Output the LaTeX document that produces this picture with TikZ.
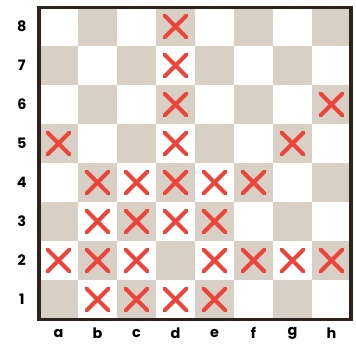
\documentclass[tikz,border=0pt]{standalone}
\usepackage{fontspec}
\setmainfont{Poppins}
\usetikzlibrary{calc}

\definecolor{darksq}{RGB}{217,208,197}
\definecolor{frame}{RGB}{45,35,28}
\definecolor{cross}{RGB}{236,68,58}

\tikzset{
  mark x/.style={cross, line width=2.9pt, line cap=round},
  lbl/.style={font=\fontsize{10.5}{12}\selectfont\bfseries, text=black}
}

\begin{document}
\begin{tikzpicture}[x=1cm,y=1cm]
  \useasboundingbox (0,0) rectangle (9.128,8.795);
  \coordinate (O) at (1,0.615);

  % squares
  \foreach \i in {0,...,7}
    \foreach \j in {0,...,7} {
      \pgfmathtruncatemacro{\sqpar}{mod(\i+\j,2)}
      \ifnum\sqpar=0
        \fill[darksq] ($(O)+(\i,\j)$) rectangle ++(1,1);
      \else
        \fill[white] ($(O)+(\i,\j)$) rectangle ++(1,1);
      \fi
    }
  \draw[frame, line width=2.2pt] (O) rectangle ++(8,8);

  % labels
  \foreach \f [count=\i from 0] in {a,b,c,d,e,f,g,h}
    \node[lbl] (file-\f) at ($(O)+(\i+0.5,-0.36)$) {\f};
  \foreach \r in {1,...,8}
    \node[lbl] (rank-\r) at ($(O)+(-0.44,\r-0.5)$) {\r};

  % attacked squares
  \foreach \i/\j in {3/7, 3/6, 3/5, 7/5, 0/4, 3/4, 6/4,
                     1/3, 2/3, 3/3, 4/3, 5/3,
                     1/2, 2/2, 3/2, 4/2,
                     0/1, 1/1, 2/1, 4/1, 5/1, 6/1, 7/1,
                     1/0, 2/0, 3/0, 4/0} {
    \coordinate (c) at ($(O)+(\i+0.5,\j+0.5)$);
    \draw[mark x] ($(c)+(-0.28,-0.28)$) -- ($(c)+(0.28,0.28)$);
    \draw[mark x] ($(c)+(-0.28,0.28)$) -- ($(c)+(0.28,-0.28)$);
  }
\end{tikzpicture}
\end{document}
